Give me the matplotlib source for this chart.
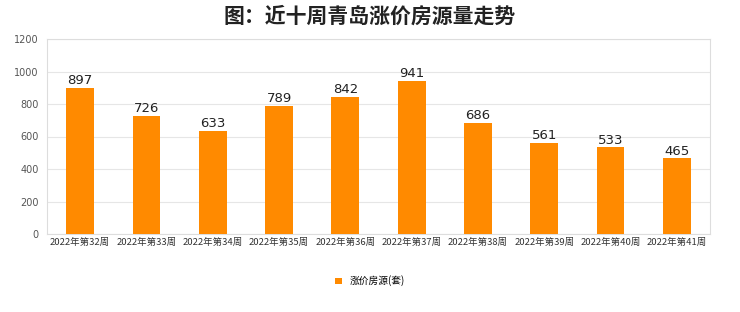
import matplotlib
matplotlib.use('Agg')
import matplotlib.pyplot as plt
import numpy as np

plt.rcParams['font.family'] = ['Noto Sans CJK SC', 'DejaVu Sans']

weeks = ['2022年第32周', '2022年第33周', '2022年第34周', '2022年第35周', '2022年第36周',
         '2022年第37周', '2022年第38周', '2022年第39周', '2022年第40周', '2022年第41周']
values = [897, 726, 633, 789, 842, 941, 686, 561, 533, 465]
yticks = [0, 200, 400, 600, 800, 1000, 1200]

fig = plt.figure(figsize=(7.4, 3.12), dpi=100)
ax = fig.add_axes([47 / 740, 1 - 234 / 312, (710 - 47) / 740, (234 - 39) / 312])

x = np.arange(len(weeks))
bars = ax.bar(x, values, width=0.42, color='#FF8A00', label='涨价房源(套)', zorder=3)

for xi, v in zip(x, values):
    ax.text(xi, v + 5, str(v), ha='center', va='bottom', fontsize=9.5,
            family=['DejaVu Sans'], color='#222222', zorder=4)

ax.set_xlim(-0.5, len(weeks) - 0.5)
ax.set_ylim(0, 1200)
ax.set_yticks(yticks)
ax.set_yticklabels([str(t) for t in yticks], fontsize=7, color='#555555',
                   family=['DejaVu Sans'])
ax.set_xticks(x)
ax.set_xticklabels(weeks, fontsize=6.8, color='#333333')
ax.tick_params(axis='y', length=0, pad=6)
ax.tick_params(axis='x', length=0, pad=3)
ax.grid(axis='y', color='#e6e6e6', linewidth=0.8, zorder=0)
for s in ax.spines.values():
    s.set_color('#dddddd')
    s.set_linewidth(0.8)

fig.text(0.5, 1 - 16 / 312, '图：近十周青岛涨价房源量走势', ha='center', va='center',
         fontsize=15, fontweight='bold', color='#222222')

fig.legend(handles=[bars], labels=['涨价房源(套)'], loc='center',
           bbox_to_anchor=(0.5, 1 - 281 / 312), frameon=False, fontsize=7,
           handlelength=0.7, handleheight=0.7, handletextpad=0.8)

fig.savefig('out.png', dpi=100)
